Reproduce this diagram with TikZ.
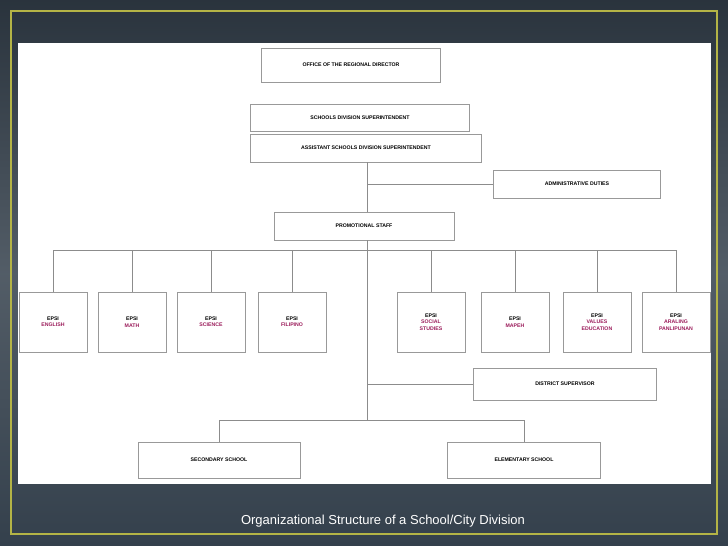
\documentclass[tikz,border=0pt]{standalone}
\usepackage{fontspec}
\setmainfont{Liberation Sans}
\usetikzlibrary{positioning}
\definecolor{slate}{HTML}{34404C}
\definecolor{frameyel}{HTML}{B4B446}
\definecolor{subj}{HTML}{9B1B5A}
\tikzset{
  box/.style={draw=gray!80,line width=0.8pt,fill=white,inner sep=0pt,font=\fontsize{5.2}{6.4}\selectfont\bfseries,align=center},
  epsi/.style={box,minimum width=68pt,minimum height=60pt},
  wire/.style={draw=gray!90,line width=0.8pt}
}
\newcommand{\subj}[1]{EPSI\\\textcolor{subj}{#1}}
\newcommand{\subjj}[2]{EPSI\\\textcolor{subj}{#1}\\\textcolor{subj}{#2}}
\begin{document}
\begin{tikzpicture}[x=1pt,y=-1pt]
  \shade[top color=slate!80!black,bottom color=slate,middle color=slate!85!white] (0,0) rectangle (728,546);
  \useasboundingbox (0,0) rectangle (728,546);
  \draw[frameyel,line width=1.2pt] (11,11) rectangle (717,534);
  \fill[white] (18,43) rectangle (711,484);

  % top of the tree
  \node[box,minimum width=179pt,minimum height=34pt] (rd) at (351,65) {OFFICE OF THE REGIONAL DIRECTOR};
  \node[box,minimum width=219pt,minimum height=27pt] (sds) at (360,118) {SCHOOLS DIVISION SUPERINTENDENT};
  \node[box,minimum width=231pt,minimum height=28pt] (asds) at (366,148) {ASSISTANT SCHOOLS DIVISION SUPERINTENDENT};
  \node[box,minimum width=167pt,minimum height=28pt] (adm) at (577,184) {ADMINISTRATIVE DUTIES};
  \node[box,minimum width=180pt,minimum height=28pt] (ps) at (364,226) {PROMOTIONAL STAFF};

  % EPSI row
  \node[epsi] (e1) at (53,322) {\subj{ENGLISH}};
  \node[epsi] (e2) at (132,322) {\subj{MATH}};
  \node[epsi] (e3) at (211,322) {\subj{SCIENCE}};
  \node[epsi] (e4) at (292,322) {\subj{FILIPINO}};
  \node[epsi] (e5) at (431,322) {\subjj{SOCIAL}{STUDIES}};
  \node[epsi] (e6) at (515,322) {\subj{MAPEH}};
  \node[epsi] (e7) at (597,322) {\subjj{VALUES}{EDUCATION}};
  \node[epsi] (e8) at (676,322) {\subjj{ARALING}{PANLIPUNAN}};

  \node[box,minimum width=183pt,minimum height=32pt] (dist) at (565,384) {DISTRICT SUPERVISOR};
  \node[box,minimum width=162pt,minimum height=36pt] (sec) at (219,460) {SECONDARY SCHOOL};
  \node[box,minimum width=153pt,minimum height=36pt] (elem) at (524,460) {ELEMENTARY SCHOOL};

  % connectors
  \coordinate (t0) at (367,162);
  \coordinate (tb) at (367,420);
  \draw[wire] (t0) -- (ps.north -| t0);
  \draw[wire] (t0 |- adm.west) -- (adm.west);
  \draw[wire] (ps.south -| t0) -- (tb);
  \draw[wire] (e1.north |- 0,250) -- (e8.north |- 0,250);
  \foreach \e in {e1,e2,e3,e4,e5,e6,e7,e8}
    \draw[wire] (\e.north |- 0,250) -- (\e.north);
  \draw[wire] (tb |- dist.west) -- (dist.west);
  \draw[wire] (sec.north |- tb) -- (elem.north |- tb);
  \draw[wire] (sec.north |- tb) -- (sec.north);
  \draw[wire] (elem.north |- tb) -- (elem.north);

  \node[text=white,font=\fontsize{13}{15}\selectfont] (cap) at (383,521) {Organizational Structure of a School/City Division};
\end{tikzpicture}
\end{document}
